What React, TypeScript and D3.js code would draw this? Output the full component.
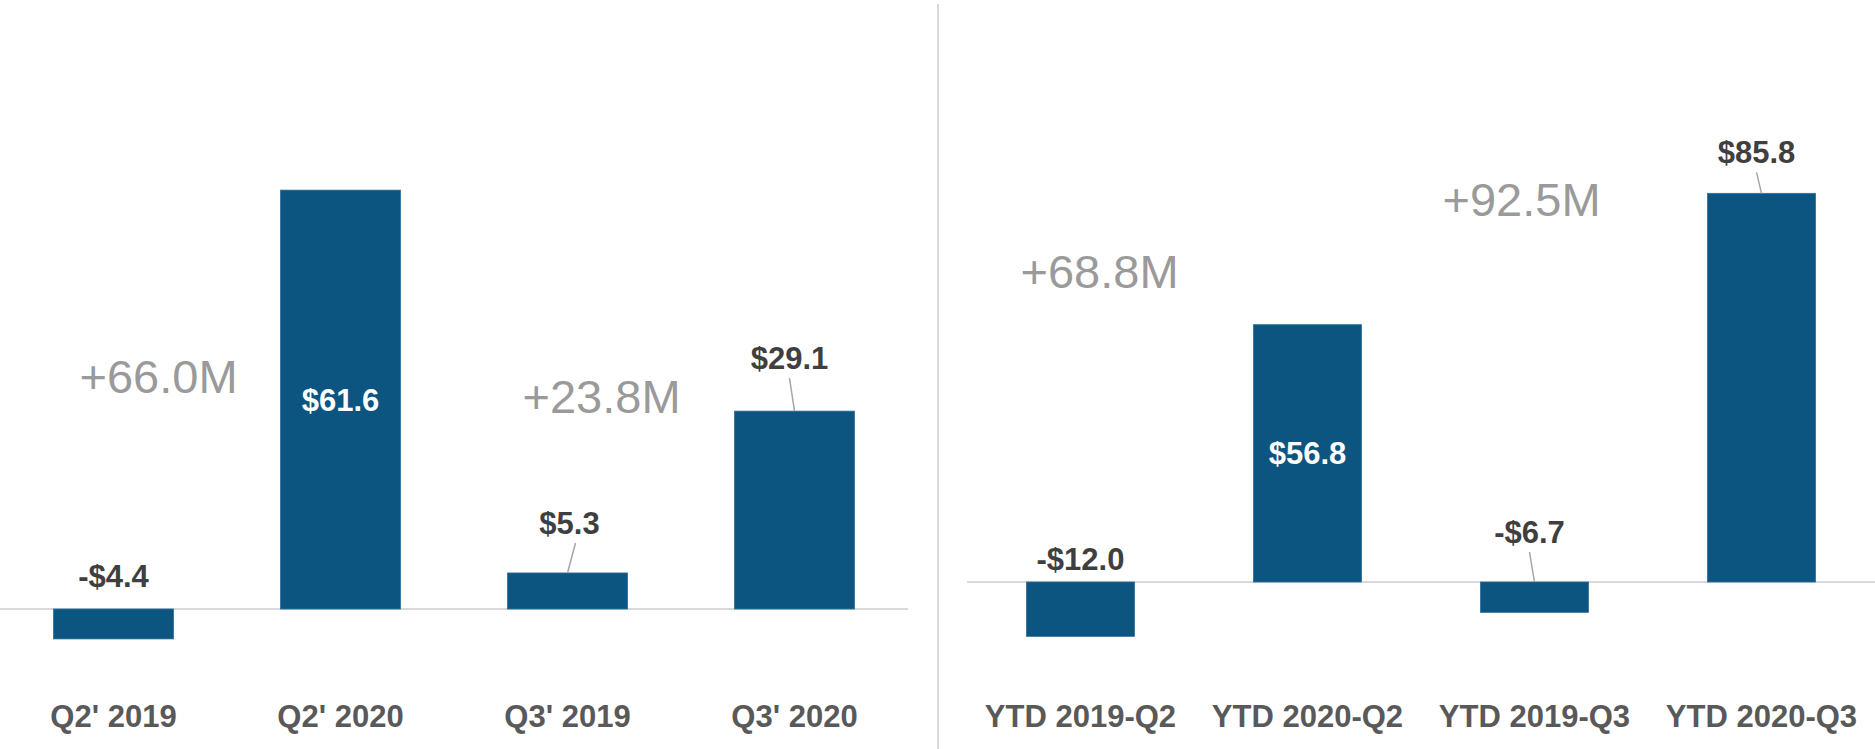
import React from "react";
import * as d3 from "d3";

// quarterly results
const qtrCategories = ["Q2' 2019", "Q2' 2020", "Q3' 2019", "Q3' 2020"];
const qtrValues = [-4.4, 61.6, 5.3, 29.1];
const qtrChanges = ["+66.0M", "+23.8M"];

// year to date
const ytdCategories = ["YTD 2019-Q2", "YTD 2020-Q2", "YTD 2019-Q3", "YTD 2020-Q3"];
const ytdValues = [-12.0, 56.8, -6.7, 85.8];
const ytdChanges = ["+68.8M", "+92.5M"];

const BAR = "#0b5580";
const FONT = "'Liberation Sans', Arial, sans-serif";

type LabelPos = { inside?: boolean; dx: number; lift: number; leader?: boolean };
type NotePos = { bar: number; dx: number; lift: number };

function fmt(v: number) {
  return (v < 0 ? "-$" : "$") + Math.abs(v).toFixed(1);
}

function Panel(props: {
  categories: string[];
  values: number[];
  changes: string[];
  x0: number;
  x1: number;
  zeroY: number;
  pxPerUnit: number;
  barShare: number;
  labels: LabelPos[];
  notes: NotePos[];
}) {
  const { categories, values, changes, x0, x1, zeroY, pxPerUnit, barShare } = props;
  const inner = 1 - barShare;
  const outer = inner / 2;
  const x = d3
    .scaleBand()
    .domain(categories)
    .range([x0, x1])
    .paddingInner(inner)
    .paddingOuter(outer);
  const y = d3
    .scaleLinear()
    .domain([0, 100])
    .range([zeroY, zeroY - 100 * pxPerUnit]);
  const bw = x.bandwidth();

  return (
    <g>
      <line x1={x0} x2={x1} y1={y(0)} y2={y(0)} stroke="#d9d9d9" strokeWidth={2} />
      {categories.map((c, i) => {
        const v = values[i];
        const top = y(Math.max(0, v));
        const bottom = y(Math.min(0, v));
        const cx = (x(c) as number) + bw / 2;
        const lp = props.labels[i];
        let label;
        if (lp.inside) {
          label = (
            <text
              x={cx}
              y={(top + bottom) / 2 + 11}
              textAnchor="middle"
              fill="#ffffff"
              fontWeight="bold"
              fontSize={31}
            >
              {fmt(v)}
            </text>
          );
        } else {
          const lx = cx + lp.dx;
          const ly = top - lp.lift;
          label = (
            <g>
              {lp.leader && (
                <line
                  x1={lx + (lp.dx > 0 ? 6 : 0)}
                  y1={ly + 9}
                  x2={cx}
                  y2={top}
                  stroke="#a6a6a6"
                  strokeWidth={1.5}
                />
              )}
              <text x={lx} y={ly} textAnchor="middle" fill="#3f3f3f" fontWeight="bold" fontSize={31}>
                {fmt(v)}
              </text>
            </g>
          );
        }
        return (
          <g key={c}>
            <rect
              x={x(c)}
              y={top}
              width={bw}
              height={bottom - top}
              fill={BAR}
              stroke="#2f6e99"
              strokeWidth={0.8}
            />
            {label}
            <text x={cx} y={727} textAnchor="middle" fill="#595959" fontWeight="bold" fontSize={31}>
              {c}
            </text>
          </g>
        );
      })}
      {changes.map((t, i) => {
        const np = props.notes[i];
        const cx = (x(categories[np.bar]) as number) + bw / 2 + np.dx;
        return (
          <text key={t} x={cx} y={y(0) - np.lift} textAnchor="middle" fill="#9a9a9a" fontSize={47}>
            {t}
          </text>
        );
      })}
    </g>
  );
}

export default function App() {
  return (
    <svg
      width={1875}
      height={749}
      style={{ position: "absolute", left: 0, top: 0, background: "#fff", fontFamily: FONT }}
    >
      <Panel
        categories={qtrCategories}
        values={qtrValues}
        changes={qtrChanges}
        x0={0}
        x1={908}
        zeroY={609}
        pxPerUnit={6.8}
        barShare={120 / 227}
        labels={[
          { dx: 0, lift: 22 },
          { inside: true, dx: 0, lift: 0 },
          { dx: 2, lift: 39, leader: true },
          { dx: -5, lift: 42, leader: true },
        ]}
        notes={[
          { bar: 0, dx: 45, lift: 216 },
          { bar: 2, dx: 34, lift: 196 },
        ]}
      />
      <line x1={938} x2={938} y1={4} y2={749} stroke="#d9d9d9" strokeWidth={2} />
      <Panel
        categories={ytdCategories}
        values={ytdValues}
        changes={ytdChanges}
        x0={967}
        x1={1875}
        zeroY={582}
        pxPerUnit={4.53}
        barShare={108 / 227}
        labels={[
          { dx: 0, lift: 12 },
          { inside: true, dx: 0, lift: 0 },
          { dx: -5, lift: 39, leader: true },
          { dx: -5, lift: 30, leader: true },
        ]}
        notes={[
          { bar: 0, dx: 19, lift: 294 },
          { bar: 2, dx: -13, lift: 366 },
        ]}
      />
    </svg>
  );
}
